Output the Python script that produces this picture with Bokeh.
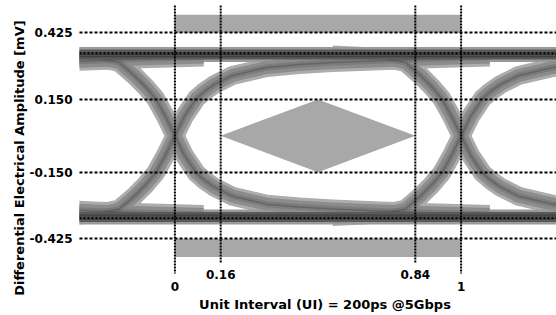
import math
from bokeh.plotting import figure
from bokeh.models import FixedTicker, NumeralTickFormatter, Label, Span, Title
from bokeh.embed import file_html
from bokeh.resources import INLINE
from bokeh.core.properties import value

# ---------------- data ----------------
y_ticks = [-0.425, -0.150, 0.150, 0.425]
x_ticks = [0, 0.16, 0.84, 1]
x_tick_labels = ["0", "0.16", "0.84", "1"]
x_title = "Unit Interval (UI) = 200ps @5Gbps"
y_title = "Differential Electrical Amplitude [mV]"

rail_level = 0.335          # settled high / low level
eye_level = 0.34            # dotted eye-amplitude lines
mask_outer = 0.5            # outer edge of the grey keep-out bars
mask_inner = 0.425          # inner edge of the grey keep-out bars
diamond_x = [0.16, 0.5, 0.84, 0.5]
diamond_y = [0.0, 0.15, 0.0, -0.15]

# rising edge shape around a crossing (UI offset, level in mV); falling = mirrored
edge_dt = [-0.45, -0.341, -0.264, -0.194, -0.142, -0.103, -0.068, -0.033, 0.0,
           0.033, 0.075, 0.103, 0.138, 0.201, 0.320, 0.435, 0.551, 0.715, 0.89, 1.1]
edge_rise = [-0.333, -0.327, -0.321, -0.302, -0.249, -0.203, -0.154, -0.080, 0.0,
             0.080, 0.154, 0.183, 0.212, 0.249, 0.282, 0.294, 0.302, 0.310, 0.318, 0.325]
crossings = [-1, 0, 1, 2]

# ---------------- figure ----------------
W, H = 556, 315
FRAME_LEFT = 79
p = figure(width=W, height=H, output_backend="svg", toolbar_location=None,
           x_range=(-1/3, 4/3), y_range=(-0.7415, 0.5583),
           min_border_left=FRAME_LEFT, min_border_right=0, min_border_top=0, min_border_bottom=0)
p.outline_line_color = None
p.background_fill_color = "white"
p.border_fill_color = "white"
p.xaxis.visible = False
p.xgrid.visible = False

FONT = "DejaVu Sans"

# y axis
p.yaxis.ticker = FixedTicker(ticks=y_ticks)
p.yaxis.formatter = NumeralTickFormatter(format="0.000")
p.yaxis.axis_line_color = None
p.yaxis.major_tick_line_color = None
p.yaxis.minor_tick_line_color = None
p.yaxis.major_tick_out = 0
p.yaxis.major_tick_in = 0
p.yaxis.major_label_standoff = 7
p.yaxis.major_label_text_font = FONT
p.yaxis.major_label_text_font_style = "bold"
p.yaxis.major_label_text_font_size = "12px"
p.yaxis.major_label_text_color = "black"

p.ygrid.ticker = FixedTicker(ticks=y_ticks)
p.ygrid.grid_line_color = "black"
p.ygrid.grid_line_width = 2
p.ygrid.grid_line_dash = "3 2"
p.ygrid.level = "overlay"

# grey mask bars and diamond
p.quad(left=[x_ticks[0], x_ticks[0]], right=[x_ticks[-1], x_ticks[-1]],
       bottom=[mask_inner, -mask_outer], top=[mask_outer, -mask_inner],
       fill_color="#a8a8a8", line_color=None)
p.patch(diamond_x, diamond_y, fill_color="#a8a8a8", line_color=None)

# ---------------- eye traces ----------------
xs, ys = [], []
for c in crossings:
    for s in (1, -1):
        xs.append([c + d for d in edge_dt])
        ys.append([s * v for v in edge_rise])

rail_x = [-1/3 - 0.1, 4/3 + 0.1]
rails_x = [rail_x, rail_x]
rails_y = [[rail_level] * 2, [-rail_level] * 2]

p.multi_line(xs, ys, line_color="#acacac", line_width=19, line_join="round")
p.multi_line(rails_x, rails_y, line_color="#9a9a9a", line_width=15)
p.multi_line(xs, ys, line_color="#8c8c8c", line_width=13, line_join="round")
p.multi_line(xs, ys, line_color="#6e6e6e", line_width=6, line_alpha=0.55, line_join="round")
p.multi_line(xs, ys, line_color="#4a4a4a", line_width=1.5, line_alpha=0.45, line_join="round")

p.multi_line(rails_x, rails_y, line_color="#5a5a5a", line_width=10)
for dy in (-0.008, 0.0, 0.008):
    p.multi_line(rails_x, [[rail_level + dy] * 2, [-rail_level + dy] * 2],
                 line_color="#2e2e2e", line_width=1.2, line_alpha=0.6)

# ---------------- mask lines ----------------
y_top = 0.538
line_bottom = [-0.568, -0.527, -0.527, -0.568]
p.segment(x0=x_ticks, x1=x_ticks, y0=[y_top] * 4, y1=line_bottom,
          line_color="black", line_width=2, line_dash="2 1")

for lv in (eye_level, -eye_level):
    p.add_layout(Span(location=lv, dimension="width", line_color="black",
                      line_width=2, line_dash="2 2"))

# staggered x tick labels
label_y = [-0.622, -0.572, -0.572, -0.622]
p.text(x=x_ticks, y=label_y, text=x_tick_labels, text_align="center",
       text_baseline="middle", text_font=value(FONT), text_font_style="bold",
       text_font_size="12px", text_color="black")

# axis titles
p.add_layout(Label(x=324.5 - FRAME_LEFT, y=H - 304, x_units="screen", y_units="screen",
                   text=x_title, text_align="center", text_baseline="middle",
                   text_font=FONT, text_font_style="bold", text_font_size="13px",
                   text_color="black"))
p.add_layout(Title(text=y_title, align="center", offset=14, standoff=0,
                   text_font=FONT, text_font_style="bold", text_font_size="13px",
                   text_color="black"), "left")

open("out.html", "w").write(file_html(p, INLINE))
